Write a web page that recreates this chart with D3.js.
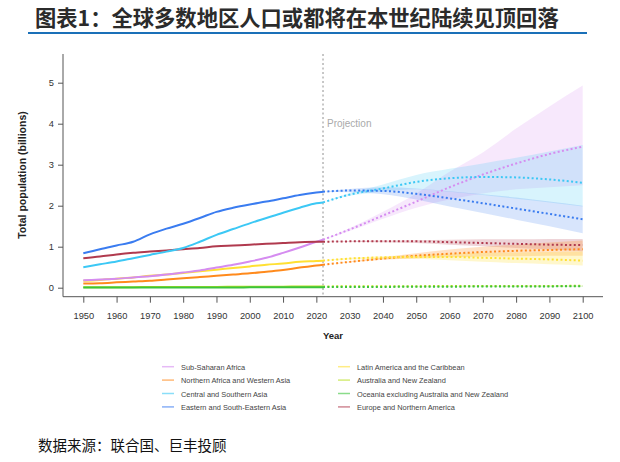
<!DOCTYPE html>
<html><head><meta charset="utf-8">
<script src="https://cdn.jsdelivr.net/npm/d3@7"></script>
<style>
body{margin:0;background:#fff;}
svg{display:block;}
</style></head>
<body><svg id="c" width="620" height="462"></svg>
<script>
const title = "图表1：全球多数地区人口或都将在本世纪陆续见顶回落";
const source = "数据来源：联合国、巨丰投顾";
const regions = ["Sub-Saharan Africa","Northern Africa and Western Asia","Central and Southern Asia","Eastern and South-Eastern Asia","Latin America and the Caribbean","Australia and New Zealand","Oceania excluding Australia and New Zealand","Europe and Northern America"];
const colors = ["#d58cf0","#ff8a1c","#3cc8f5","#3a7cf0","#ffe033","#b8e01e","#3cc43c","#b03a4e"];
const xTicks = [1950,1960,1970,1980,1990,2000,2010,2020,2030,2040,2050,2060,2070,2080,2090,2100];
const yTicks = [0,1,2,3,4,5];
const projStart = 2022;

const histYears = [1950,1955,1960,1965,1970,1975,1980,1985,1990,1995,2000,2005,2010,2015,2020,2022];
const histSSA  = [0.18,0.20,0.22,0.25,0.28,0.32,0.37,0.42,0.49,0.56,0.64,0.73,0.85,0.98,1.12,1.17];
const histNAWA = [0.10,0.11,0.13,0.15,0.17,0.20,0.23,0.26,0.29,0.32,0.35,0.39,0.43,0.49,0.54,0.56];
const histCSA  = [0.50,0.57,0.64,0.72,0.80,0.88,0.97,1.12,1.29,1.43,1.57,1.70,1.83,1.95,2.06,2.08];
const histESEA = [0.84,0.94,1.03,1.12,1.30,1.44,1.56,1.70,1.85,1.95,2.03,2.10,2.18,2.26,2.32,2.34];
const histLAC  = [0.17,0.19,0.22,0.25,0.29,0.32,0.36,0.40,0.44,0.48,0.52,0.56,0.59,0.63,0.65,0.66];
const histANZ  = [0.010,0.011,0.013,0.014,0.015,0.016,0.017,0.018,0.020,0.021,0.022,0.024,0.026,0.028,0.030,0.031];
const histOCE  = [0.002,0.003,0.003,0.004,0.004,0.005,0.005,0.006,0.007,0.007,0.008,0.009,0.010,0.012,0.013,0.014];
const histENA  = [0.72,0.76,0.81,0.85,0.88,0.91,0.94,0.97,1.01,1.03,1.05,1.07,1.09,1.11,1.12,1.12];

const projYears = [2022,2030,2040,2050,2060,2070,2080,2090,2100];
const projSSA  = [1.17,1.42,1.76,2.10,2.45,2.76,3.03,3.26,3.44];
const projNAWA = [0.56,0.63,0.71,0.78,0.83,0.87,0.90,0.92,0.94];
const projCSA  = [2.08,2.27,2.42,2.58,2.67,2.70,2.69,2.64,2.56];
const projESEA = [2.34,2.37,2.36,2.29,2.18,2.06,1.93,1.80,1.67];
const projLAC  = [0.66,0.71,0.74,0.75,0.75,0.73,0.71,0.69,0.66];
const projANZ  = [0.031,0.034,0.036,0.038,0.040,0.042,0.043,0.044,0.045];
const projOCE  = [0.014,0.016,0.019,0.022,0.025,0.028,0.030,0.032,0.034];
const projENA  = [1.12,1.13,1.13,1.13,1.11,1.09,1.07,1.05,1.04];

const loSSA  = [1.17,1.38,1.68,1.95,2.15,2.30,2.40,2.45,2.50];
const hiSSA  = [1.17,1.45,1.85,2.30,2.83,3.30,3.88,4.42,4.93];
const loNAWA = [0.56,0.62,0.68,0.72,0.74,0.76,0.77,0.78,0.78];
const hiNAWA = [0.56,0.64,0.74,0.84,0.93,1.00,1.05,1.10,1.15];
const loCSA  = [2.08,2.24,2.34,2.40,2.34,2.26,2.17,2.08,1.98];
const hiCSA  = [2.08,2.31,2.52,2.75,2.90,3.03,3.17,3.32,3.48];
const loESEA = [2.34,2.33,2.28,2.15,1.98,1.82,1.66,1.50,1.33];
const hiESEA = [2.34,2.41,2.45,2.42,2.35,2.28,2.20,2.10,2.00];
const loLAC  = [0.66,0.69,0.70,0.70,0.67,0.63,0.60,0.57,0.54];
const hiLAC  = [0.66,0.73,0.77,0.80,0.83,0.85,0.86,0.87,0.88];
const loANZ  = [0.031,0.033,0.034,0.035,0.035,0.036,0.036,0.036,0.036];
const hiANZ  = [0.031,0.035,0.038,0.041,0.044,0.047,0.050,0.053,0.056];
const loOCE  = [0.014,0.015,0.018,0.020,0.022,0.024,0.025,0.026,0.027];
const hiOCE  = [0.014,0.017,0.020,0.024,0.028,0.032,0.035,0.038,0.041];
const loENA  = [1.12,1.12,1.11,1.09,1.05,1.01,0.97,0.93,0.89];
const hiENA  = [1.12,1.14,1.15,1.16,1.17,1.18,1.18,1.19,1.19];

const hist = [histSSA,histNAWA,histCSA,histESEA,histLAC,histANZ,histOCE,histENA];
const proj = [projSSA,projNAWA,projCSA,projESEA,projLAC,projANZ,projOCE,projENA];
const lows = [loSSA,loNAWA,loCSA,loESEA,loLAC,loANZ,loOCE,loENA];
const highs = [hiSSA,hiNAWA,hiCSA,hiESEA,hiLAC,hiANZ,hiOCE,hiENA];

const svg = d3.select("#c");
const x = d3.scaleLinear().domain([1950,2100]).range([83.3,582.7]);
const y = d3.scaleLinear().domain([0,5]).range([287.7,82.7]);

// title
svg.append("text").attr("x",35).attr("y",26)
  .attr("font-family","'Noto Sans CJK SC'").attr("font-weight","bold")
  .attr("font-size",21.3).attr("fill","#2b2b2b").text(title);
svg.append("line").attr("x1",28).attr("x2",587).attr("y1",33).attr("y2",33)
  .attr("stroke","#1a70b8").attr("stroke-width",2.2);

// bands
const bandOrder = [0,2,3,7,1,4,5,6];
const bandOpacity = [0.2,0.25,0.2,0.2,0.25,0.28,0.2,0.22];
bandOrder.forEach(i=>{
  const area = d3.area().x((d,j)=>x(projYears[j])).y0((d,j)=>y(lows[i][j])).y1((d,j)=>y(highs[i][j])).curve(d3.curveMonotoneX);
  svg.append("path").datum(projYears).attr("d",area).attr("fill",colors[i]).attr("fill-opacity",bandOpacity[i]);
});

// projection line
svg.append("line").attr("x1",x(projStart)).attr("x2",x(projStart)).attr("y1",54).attr("y2",296)
  .attr("stroke","#b5b5b5").attr("stroke-width",1.5).attr("stroke-dasharray","2,2.5");
svg.append("text").attr("x",x(projStart)+4).attr("y",127).attr("font-family","'Liberation Sans',Arial")
  .attr("font-size",10).attr("fill","#aaa").text("Projection");

// lines
const drawOrder = [5,6,1,4,0,7,2,3];
drawOrder.forEach(i=>{
  const lh = d3.line().x((d,j)=>x(histYears[j])).y(d=>y(d)).curve(d3.curveMonotoneX);
  svg.append("path").datum(hist[i]).attr("d",lh).attr("fill","none").attr("stroke",colors[i]).attr("stroke-width",2);
  const lp = d3.line().x((d,j)=>x(projYears[j])).y(d=>y(d)).curve(d3.curveMonotoneX);
  svg.append("path").datum(proj[i]).attr("d",lp).attr("fill","none").attr("stroke",colors[i])
    .attr("stroke-width",2).attr("stroke-dasharray","2,2.4");
});

// axes
const axisFont = "'Liberation Sans',Arial,sans-serif";
const gx = svg.append("g").attr("transform","translate(0,296.7)")
  .call(d3.axisBottom(x).tickValues(xTicks).tickFormat(d3.format("d")).tickSize(6).tickSizeOuter(0));
gx.select(".domain").attr("d","M63,0H603");
const gy = svg.append("g").attr("transform","translate(63,0)")
  .call(d3.axisLeft(y).tickValues(yTicks).tickFormat(d3.format("d")).tickSize(5).tickSizeOuter(0));
gy.select(".domain").attr("d","M0,54V296.7");
[gx,gy].forEach(g=>{
  g.selectAll(".domain").attr("stroke","#555");
  g.selectAll(".tick line").attr("stroke","#555");
  g.selectAll("text").attr("font-family",axisFont).attr("font-size",9.3).attr("fill","#333");
});
gx.selectAll("text").attr("dy","1.45em");
gy.selectAll("text").attr("x",-9);

svg.append("text").attr("x",333).attr("y",339).attr("text-anchor","middle")
  .attr("font-family",axisFont).attr("font-weight","bold").attr("font-size",9.5).attr("fill","#222").text("Year");
svg.append("text").attr("transform","translate(26,175) rotate(-90)").attr("text-anchor","middle")
  .attr("font-family",axisFont).attr("font-weight","bold").attr("font-size",10.5).attr("fill","#222")
  .text("Total population (billions)");

// legend
const leg = svg.append("g");
regions.forEach((r,i)=>{
  const col = i<4?0:1, row = i%4;
  const lx = col===0?162:338, ly = 366.7 + row*13.4;
  leg.append("line").attr("x1",lx).attr("x2",lx+12).attr("y1",ly).attr("y2",ly)
    .attr("stroke",colors[i]).attr("stroke-width",1.5).attr("stroke-opacity",0.6);
  leg.append("text").attr("x",lx+19).attr("y",ly+3).attr("font-family",axisFont)
    .attr("font-size",7.4).attr("fill","#444").text(r);
});

// source
svg.append("text").attr("x",38).attr("y",451).attr("font-family","'Noto Sans CJK SC'")
  .attr("font-size",14.5).attr("fill","#111").text(source);
</script></body></html>
